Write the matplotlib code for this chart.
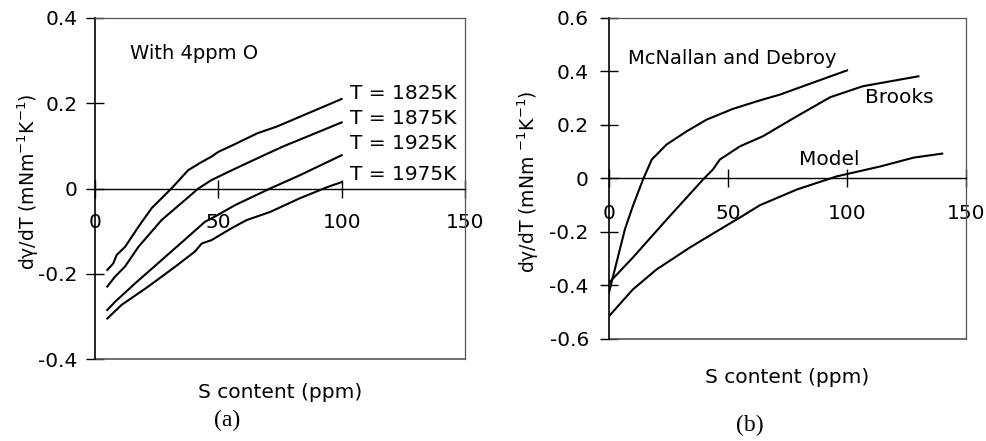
import matplotlib.pyplot as plt

plt.rcParams["font.family"] = "DejaVu Sans"
plt.rcParams["mathtext.fontset"] = "dejavusans"

# panel (a): dgamma/dT vs S content at several temperatures (4 ppm O)
s_1825 = [5, 7.4, 8.8, 12.2, 17.6, 23, 31, 37.8, 42.6, 47.3, 50, 56, 66, 73.6, 100]
g_1825 = [-0.191, -0.176, -0.156, -0.137, -0.09, -0.046, 0.0, 0.043, 0.06, 0.075,
          0.086, 0.102, 0.130, 0.145, 0.21]
s_1875 = [5, 8.1, 12.2, 17.6, 27, 36.5, 41.9, 47.3, 57, 67, 76, 100]
g_1875 = [-0.23, -0.207, -0.183, -0.137, -0.074, -0.027, 0.0, 0.02, 0.047, 0.074,
          0.098, 0.155]
s_1925 = [5, 8.1, 16.2, 27, 37.8, 44.6, 48.6, 56.8, 71, 83, 100]
g_1925 = [-0.285, -0.266, -0.223, -0.168, -0.113, -0.078, -0.066, -0.039, 0.0,
          0.031, 0.078]
s_1975 = [5, 10.8, 21.6, 32.4, 40.5, 43.3, 47.3, 55.4, 61.5, 71, 83, 94.5, 100]
g_1975 = [-0.305, -0.273, -0.23, -0.184, -0.148, -0.129, -0.121, -0.093, -0.074,
          -0.055, -0.023, 0.004, 0.015]
temps = ["T = 1825K", "T = 1875K", "T = 1925K", "T = 1975K"]
temp_label_y = [0.224, 0.165, 0.106, 0.032]

# panel (b): comparison with literature
s_mcn = [0, 6.7, 10, 14.3, 18, 24.2, 32.6, 41, 52, 63.4, 72, 80, 100]
g_mcn = [-0.427, -0.19, -0.104, -0.004, 0.071, 0.127, 0.176, 0.22, 0.26, 0.292,
         0.314, 0.34, 0.404]
s_brooks = [0, 10, 24.3, 39.5, 43.7, 46.6, 55, 64.7, 79, 93, 106.7, 130]
g_brooks = [-0.39, -0.296, -0.153, -0.004, 0.034, 0.071, 0.12, 0.158, 0.233,
            0.304, 0.345, 0.382]
s_model = [0, 10, 20, 34, 48, 55, 63.4, 79, 95.7, 114, 128, 140]
g_model = [-0.515, -0.415, -0.34, -0.258, -0.183, -0.146, -0.1, -0.041, 0.008,
           0.045, 0.078, 0.093]

xticks = [0, 50, 100, 150]
xtick_labels = ["0", "50", "100", "150"]
yticks_a = [-0.4, -0.2, 0, 0.2, 0.4]
ytick_labels_a = ["-0.4", "-0.2", "0", "0.2", "0.4"]
yticks_b = [-0.6, -0.4, -0.2, 0, 0.2, 0.4, 0.6]
ytick_labels_b = ["-0.6", "-0.4", "-0.2", "0", "0.2", "0.4", "0.6"]

FS = 14.5

fig = plt.figure(figsize=(9.86, 4.41), dpi=100)
ax1 = fig.add_axes([0.0963, 0.1859, 0.3753, 0.7733])
ax2 = fig.add_axes([0.6176, 0.2313, 0.3621, 0.7279])


def style_axes(ax, ylim, yticks, ylabels, xpad, ypad):
    ax.set_xlim(0, 150)
    ax.set_ylim(*ylim)
    for side in ["top", "right"]:
        ax.spines[side].set_color("#555555")
        ax.spines[side].set_linewidth(0.9)
    ax.spines["left"].set_linewidth(1.2)
    ax.spines["bottom"].set_position(("data", 0))
    ax.spines["bottom"].set_linewidth(1.0)
    # bottom frame line of the box
    ax.axhline(ylim[0], color="#555555", lw=1.2, clip_on=False)
    ax.set_xticks(xticks)
    ax.set_xticklabels(xtick_labels)
    ax.set_yticks(yticks)
    ax.set_yticklabels(ylabels)
    ax.tick_params(axis="x", direction="inout", length=13, width=1.0,
                   labelsize=FS, pad=xpad)
    ax.tick_params(axis="y", direction="inout", length=13, width=1.0,
                   labelsize=FS, pad=ypad)


style_axes(ax1, (-0.4, 0.4), yticks_a, ytick_labels_a, 11, 6)
style_axes(ax2, (-0.6, 0.6), yticks_b, ytick_labels_b, 12, 8)

for s, g in [(s_1825, g_1825), (s_1875, g_1875), (s_1925, g_1925), (s_1975, g_1975)]:
    ax1.plot(s, g, color="black", lw=1.5)
for lab, y in zip(temps, temp_label_y):
    ax1.text(103.4, y, lab, fontsize=FS, va="center", ha="left")
ax1.text(14.2, 0.316, "With 4ppm O", fontsize=14, va="center", ha="left")

ax2.plot(s_mcn, g_mcn, color="black", lw=1.5)
ax2.plot(s_brooks, g_brooks, color="black", lw=1.5)
ax2.plot(s_model, g_model, color="black", lw=1.5)
ax2.text(8, 0.449, "McNallan and Debroy", fontsize=14, va="center", ha="left")
ax2.text(107.6, 0.303, "Brooks", fontsize=FS, va="center", ha="left")
ax2.text(79.8, 0.071, "Model", fontsize=FS, va="center", ha="left")

ax1.set_ylabel("dγ/dT (mNm$^{-1}$K$^{-1}$)", fontsize=13.5, va="center")
ax1.yaxis.set_label_coords(-0.181, 0.519)
ax2.set_ylabel("dγ/dT (mNm $^{-1}$K$^{-1}$)", fontsize=13.5, va="center")
ax2.yaxis.set_label_coords(-0.227, 0.489)

ax1.set_xlabel("S content (ppm)", fontsize=FS)
ax1.xaxis.set_label_coords(0.5, -0.097)
ax1.xaxis.label.set_va("center")
ax2.set_xlabel("S content (ppm)", fontsize=FS)
ax2.xaxis.set_label_coords(0.4986, -0.121)
ax2.xaxis.label.set_va("center")

fig.text(227 / 986, 1 - 420 / 441, "(a)", family="Liberation Serif",
         fontsize=17, ha="center", va="center")
fig.text(750 / 986, 1 - 425 / 441, "(b)", family="Liberation Serif",
         fontsize=17, ha="center", va="center")

fig.savefig("out.png", dpi=100)
plt.close(fig)
